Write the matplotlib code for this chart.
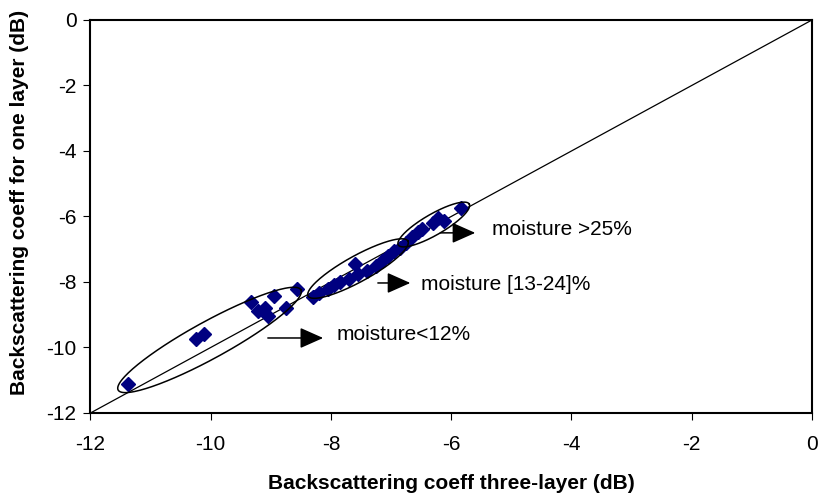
import numpy as np
import matplotlib
matplotlib.use('Agg')
import matplotlib.pyplot as plt

plt.rcParams['font.family'] = ['Liberation Sans', 'DejaVu Sans']
plt.rcParams['axes.unicode_minus'] = False

# backscattering, three-layer model (x) vs one-layer model (y), dB
dry_x = [-11.38, -10.25, -10.12, -9.33, -9.22, -9.10, -9.05, -8.95, -8.75, -8.57]
dry_y = [-11.10, -9.75, -9.58, -8.62, -8.90, -8.80, -9.05, -8.42, -8.78, -8.22]

mid_x = [-8.30, -8.20, -8.05, -7.95, -7.85, -7.70, -7.60, -7.55, -7.40, -7.25,
         -7.15, -7.05, -6.95, -6.85]
mid_y = [-8.45, -8.35, -8.20, -8.10, -8.00, -7.90, -7.45, -7.75, -7.65, -7.50,
         -7.35, -7.20, -7.05, -6.95]

wet_x = [-6.75, -6.65, -6.55, -6.48, -6.30, -6.22, -6.12, -5.83]
wet_y = [-6.80, -6.62, -6.48, -6.38, -6.20, -6.05, -6.15, -5.75]

labels = ['moisture<12%', 'moisture [13-24]%', 'moisture >25%']

xticks = [-12, -10, -8, -6, -4, -2, 0]
yticks = [-12, -10, -8, -6, -4, -2, 0]

fig = plt.figure(figsize=(8.18, 4.95), dpi=100)
ax = fig.add_axes([0.1106, 0.1657, 0.882, 0.7939])
ax.set_xlim(-12, 0)
ax.set_ylim(-12, 0)

# 1:1 line
ax.plot([-12, 0], [-12, 0], color='black', lw=0.9, zorder=2)

allx = dry_x + mid_x + wet_x
ally = dry_y + mid_y + wet_y
ax.plot(allx, ally, 'D', color='#000080', ms=7.3, mec='#000080', zorder=3)


def draw_ellipse(p1, p2, half_px):
    # ellipse between two end points, minor half-axis given in pixels
    sx = ax.bbox.width / 12.0
    sy = ax.bbox.height / 12.0
    c = (np.array(p1) + np.array(p2)) / 2
    u = (np.array(p2) - np.array(p1)) / 2
    upx = np.array([u[0] * sx, u[1] * sy])
    n = np.array([-upx[1], upx[0]]) / np.hypot(*upx) * half_px
    v = np.array([n[0] / sx, n[1] / sy])
    t = np.linspace(0, 2 * np.pi, 200)
    xs = c[0] + np.cos(t) * u[0] + np.sin(t) * v[0]
    ys = c[1] + np.cos(t) * u[1] + np.sin(t) * v[1]
    ax.plot(xs, ys, color='black', lw=1.1, zorder=4)


draw_ellipse((-11.54, -11.30), (-8.50, -8.24), 18.5)
draw_ellipse((-8.38, -8.43), (-6.72, -6.75), 13)
draw_ellipse((-6.88, -6.87), (-5.70, -5.62), 10.5)

arrows = [((-9.05, -9.71), (-8.13, -9.71)),
          ((-7.22, -8.03), (-6.68, -8.03)),
          ((-6.18, -6.50), (-5.60, -6.50))]
for a, b in arrows:
    ax.annotate('', xy=b, xytext=a,
                arrowprops=dict(arrowstyle='-|>,head_length=0.72,head_width=0.32',
                                mutation_scale=20, color='black', lw=1.1,
                                shrinkA=0, shrinkB=0))

ax.text(-7.90, -9.77, labels[0], fontsize=15, va='baseline')
ax.text(-6.50, -8.24, labels[1], fontsize=15, va='baseline')
ax.text(-5.32, -6.56, labels[2], fontsize=15, va='baseline')

ax.set_xticks(xticks)
ax.set_yticks(yticks)
ax.tick_params(direction='out', length=5, width=0.8, labelsize=15)
ax.tick_params(axis='x', pad=11)
ax.tick_params(axis='y', pad=5)
for s in ax.spines.values():
    s.set_linewidth(1.5)

ax.set_xlabel('Backscattering coeff three-layer (dB)', fontsize=15,
              fontweight='bold', va='center')
ax.xaxis.set_label_coords(0.5, (413 - 484) / 393)
ax.set_ylabel('Backscattering coeff for one layer (dB)', fontsize=15,
              fontweight='bold', va='center')
ax.yaxis.set_label_coords((20 - 90.5) / 721.5, (413 - 202) / 393)

fig.savefig('out.png', dpi=100)
